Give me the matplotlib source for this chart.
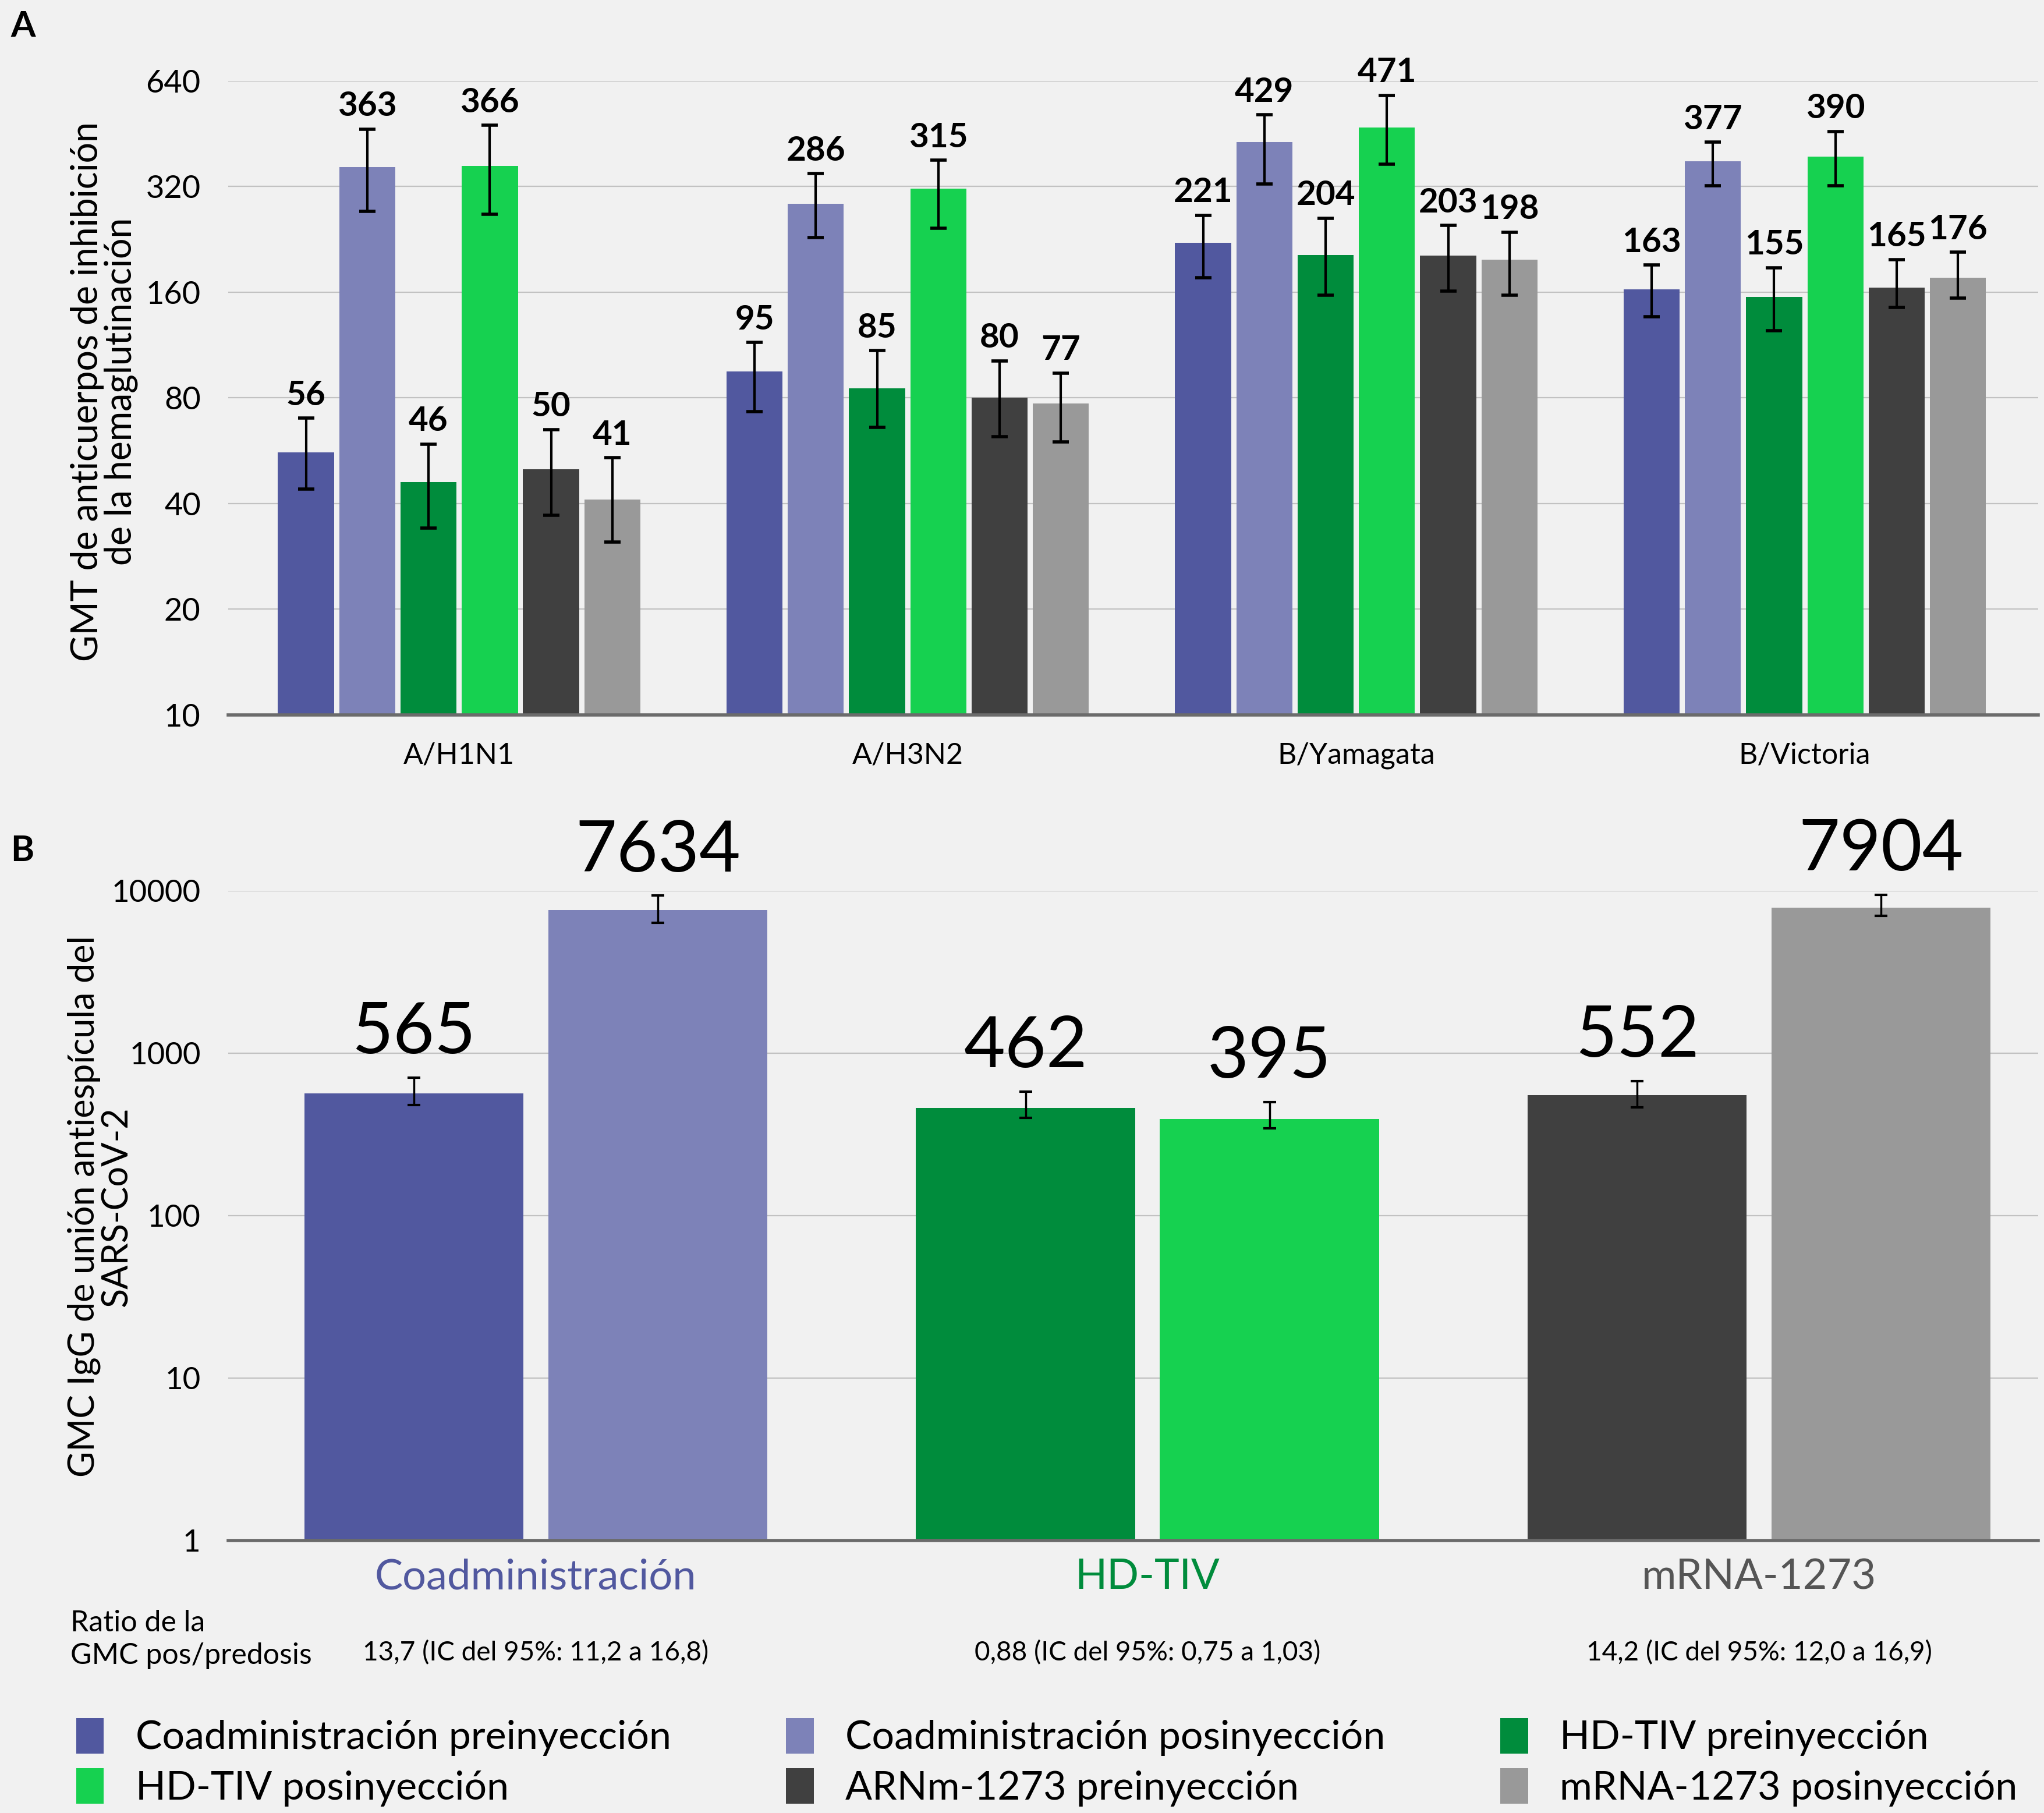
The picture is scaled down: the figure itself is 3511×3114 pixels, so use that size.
import numpy as np
import matplotlib
matplotlib.use("Agg")
import matplotlib.pyplot as plt
from matplotlib.ticker import NullLocator
from matplotlib.transforms import blended_transform_factory

plt.rcParams['font.family'] = ['Lato', 'DejaVu Sans']

# Panel A: HAI GMT by influenza strain
strains = ['A/H1N1', 'A/H3N2', 'B/Yamagata', 'B/Victoria']
series_names = ['Coadministración preinyección', 'Coadministración posinyección',
                'HD-TIV preinyección', 'HD-TIV posinyección',
                'ARNm-1273 preinyección', 'mRNA-1273 posinyección']
series_colors = ['#51589f', '#7d82b8', '#008c3c', '#16d150', '#404040', '#999999']

gmt_coad_pre = [56, 95, 221, 163]
gmt_coad_post = [363, 286, 429, 377]
gmt_hd_pre = [46, 85, 204, 155]
gmt_hd_post = [366, 315, 471, 390]
gmt_mrna_pre = [50, 80, 203, 165]
gmt_mrna_post = [41, 77, 198, 176]

ci_lo_coad_pre = [44, 73, 176, 136]
ci_hi_coad_pre = [70, 115, 265, 191]
ci_lo_coad_post = [272, 229, 325, 322]
ci_hi_coad_post = [466, 348, 512, 428]
ci_lo_hd_pre = [34, 66, 157, 124]
ci_hi_hd_pre = [59, 109, 260, 188]
ci_lo_hd_post = [267, 243, 370, 322]
ci_hi_hd_post = [478, 380, 582, 459]
ci_lo_mrna_pre = [37, 62, 161, 145]
ci_hi_mrna_pre = [65, 102, 248, 198]
ci_lo_mrna_post = [31, 60, 157, 154]
ci_hi_mrna_post = [54, 94, 237, 208]

gmt_ticks = [10, 20, 40, 80, 160, 320, 640]

# Panel B: anti-spike IgG GMC
gmc_groups = ['Coadministración', 'HD-TIV', 'mRNA-1273']
gmc_group_colors = ['#51589f', '#008c3c', '#555555']
gmc_pre = [565, 462, 552]
gmc_pre_lo = [480, 400, 465]
gmc_pre_hi = [710, 580, 675]
gmc_post = [7634, 395, 7904]
gmc_post_lo = [6340, 345, 7050]
gmc_post_hi = [9350, 500, 9450]
gmc_pre_colors = ['#51589f', '#008c3c', '#404040']
gmc_post_colors = ['#7d82b8', '#16d150', '#999999']
gmc_ticks = [1, 10, 100, 1000, 10000]
ratio_texts = ['13,7 (IC del 95%: 11,2 a 16,8)',
               '0,88 (IC del 95%: 0,75 a 1,03)',
               '14,2 (IC del 95%: 12,0 a 16,9)']

BG = '#f1f1f1'
GRID = '#c2c2c2'
BASE = '#6b6b6b'

fig = plt.figure(figsize=(35.12, 31.14), dpi=100, facecolor=BG)


def style_axes(ax):
    ax.set_facecolor('none')
    for side in ['left', 'right', 'top']:
        ax.spines[side].set_visible(False)
    ax.spines['bottom'].set_color(BASE)
    ax.spines['bottom'].set_linewidth(4)
    ax.spines['bottom'].set_zorder(4)
    ax.yaxis.grid(True, color=GRID, linewidth=1.6)
    ax.set_axisbelow(True)
    ax.tick_params(axis='both', which='both', length=0)
    ax.yaxis.set_minor_locator(NullLocator())


# ---- Panel A ----
ax_a = fig.add_axes([0.1116, 0.6058, 0.8852, 0.3496])
ax_a.set_yscale('log', base=2)
style_axes(ax_a)

series = [
    (gmt_coad_pre, ci_lo_coad_pre, ci_hi_coad_pre),
    (gmt_coad_post, ci_lo_coad_post, ci_hi_coad_post),
    (gmt_hd_pre, ci_lo_hd_pre, ci_hi_hd_pre),
    (gmt_hd_post, ci_lo_hd_post, ci_hi_hd_post),
    (gmt_mrna_pre, ci_lo_mrna_pre, ci_hi_mrna_pre),
    (gmt_mrna_post, ci_lo_mrna_post, ci_hi_mrna_post),
]
x = np.arange(len(strains))
pitch = 0.1366
width = 0.125
for i, (vals, lo, hi) in enumerate(series):
    vals = np.array(vals, dtype=float)
    lo = np.array(lo, dtype=float)
    hi = np.array(hi, dtype=float)
    pos = x + (i - 2.5) * pitch
    ax_a.bar(pos, vals, width=width, color=series_colors[i], zorder=2,
             label=series_names[i])
    ax_a.errorbar(pos, vals, yerr=[vals - lo, hi - vals], fmt='none',
                  ecolor='black', elinewidth=3, capsize=10, capthick=4, zorder=3)
    for p, v, h in zip(pos, vals, hi):
        ax_a.annotate(f'{int(v)}', (p, h), xytext=(0, 9), textcoords='offset points',
                      ha='center', va='bottom', fontsize=42, fontweight='bold')

ax_a.set_xlim(-0.515, 3.52)
ax_a.set_ylim(10, 640)
ax_a.set_yticks(gmt_ticks)
ax_a.set_yticklabels([str(t) for t in gmt_ticks], fontsize=39)
ax_a.set_xticks(x)
ax_a.set_xticklabels(strains, fontsize=36)
ax_a.tick_params(axis='y', pad=34)
ax_a.tick_params(axis='x', pad=34)

fig.text(80 / 1568, 1 - 300 / 1390,
         'GMT de anticuerpos de inhibición\nde la hemaglutinación',
         rotation=90, ha='center', va='center', multialignment='center',
         fontsize=45, linespacing=1.0)
fig.text(8 / 1568, 1 - 20 / 1390, 'A', fontsize=44, fontweight='bold',
         ha='left', va='center')

# ---- Panel B ----
ax_b = fig.add_axes([0.1116, 0.1504, 0.8852, 0.3582])
ax_b.set_yscale('log')
style_axes(ax_b)

xb = np.arange(len(gmc_groups))
b_off = 0.1994
b_width = 0.358
pre = np.array(gmc_pre, dtype=float)
post = np.array(gmc_post, dtype=float)
ax_b.bar(xb - b_off, pre, width=b_width, color=gmc_pre_colors, zorder=2)
ax_b.bar(xb + b_off, post, width=b_width, color=gmc_post_colors, zorder=2)
ax_b.errorbar(xb - b_off, pre, yerr=[pre - np.array(gmc_pre_lo), np.array(gmc_pre_hi) - pre],
              fmt='none', ecolor='black', elinewidth=2.5, capsize=8, capthick=3, zorder=3)
ax_b.errorbar(xb + b_off, post, yerr=[post - np.array(gmc_post_lo), np.array(gmc_post_hi) - post],
              fmt='none', ecolor='black', elinewidth=2.5, capsize=8, capthick=3, zorder=3)
for pos, vals, his in [(xb - b_off, gmc_pre, gmc_pre_hi), (xb + b_off, gmc_post, gmc_post_hi)]:
    for p, v, h in zip(pos, vals, his):
        ax_b.annotate(f'{v}', (p, h), xytext=(0, 15), textcoords='offset points',
                      ha='center', va='bottom', fontsize=88)

ax_b.set_xlim(-0.503, 2.456)
ax_b.set_ylim(1, 10000)
ax_b.set_yticks(gmc_ticks)
ax_b.set_yticklabels([str(t) for t in gmc_ticks], fontsize=38)
ax_b.set_xticks(xb)
ax_b.set_xticklabels(gmc_groups, fontsize=52)
for lab, col in zip(ax_b.get_xticklabels(), gmc_group_colors):
    lab.set_color(col)
ax_b.tick_params(axis='y', pad=34)
ax_b.tick_params(axis='x', pad=22)

trans = blended_transform_factory(ax_b.transData, ax_b.transAxes)
for xi, txt in zip(xb, ratio_texts):
    ax_b.text(xi, -0.173, txt, transform=trans, ha='center', va='center', fontsize=33)
fig.text(54 / 1568, 1 - 1257 / 1390, 'Ratio de la\nGMC pos/predosis', ha='left', va='center',
         fontsize=36, linespacing=1.25)

fig.text(77 / 1568, 1 - 925 / 1390,
         'GMC IgG de unión antiespícula del\nSARS-CoV-2',
         rotation=90, ha='center', va='center', multialignment='center',
         fontsize=44, linespacing=1.0)
fig.text(8 / 1568, 1 - 652 / 1390, 'B', fontsize=44, fontweight='bold',
         ha='left', va='center')

# ---- Legend (row-wise order across three columns) ----
handles, labels = ax_a.get_legend_handles_labels()
order = [0, 3, 1, 4, 2, 5]
fig.legend([handles[k] for k in order], [labels[k] for k in order],
           ncol=3, loc='center', bbox_to_anchor=(0.512, 1 - 1351 / 1390),
           frameon=False, fontsize=49, handlelength=0.7, handleheight=1.0,
           handletextpad=0.8, columnspacing=2.9, labelspacing=0.3)

fig.savefig('out.png', dpi=100, facecolor=BG)
